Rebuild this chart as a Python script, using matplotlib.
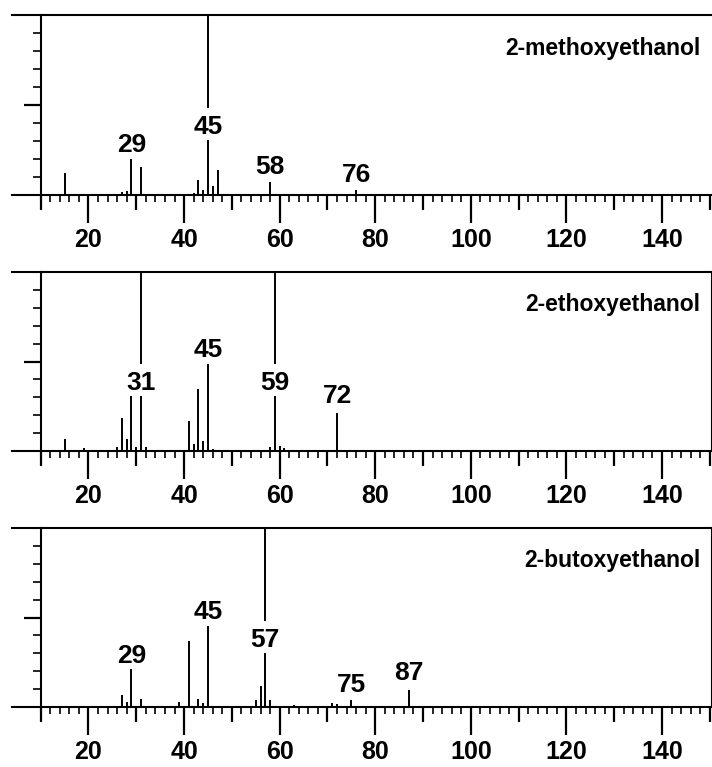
import numpy as np
import matplotlib.pyplot as plt
from matplotlib.ticker import FixedLocator


# relative intensities (% of base peak) read per m/z
names = ['2-methoxyethanol', '2-ethoxyethanol', '2-butoxyethanol']

mz_meth = [15, 27, 28, 29, 31, 42, 43, 44, 45, 46, 47, 58, 76]
int_meth = [12.5, 1.5, 2, 20, 15.5, 1, 8.5, 3, 100, 5, 14, 7, 3]
lab_meth = [29, 45, 58, 76]
laby_meth = [24, 34, 11.7, 7.2]

mz_eth = [15, 19, 26, 27, 28, 29, 30, 31, 32, 41, 42, 43, 44, 45, 46, 58, 59, 60, 61, 72]
int_eth = [6.5, 1.5, 2.5, 18.5, 6.5, 31, 2, 100, 2.5, 17, 3.7, 34.5, 5.6, 48.5, 1, 2, 100, 3, 1.5, 21.5]
lab_eth = [31, 45, 59, 72]
laby_eth = [34, 52.6, 34, 26.6]

mz_but = [27, 28, 29, 31, 39, 41, 43, 44, 45, 55, 56, 57, 58, 63, 71, 72, 75, 87]
int_but = [6.5, 3, 21, 4.5, 3, 37, 4.5, 2.5, 45, 4, 12, 100, 4, 1, 2.5, 1.5, 4, 9.5]
lab_but = [29, 45, 57, 75, 87]
laby_but = [24.6, 49.3, 33.5, 8.4, 14.9]

spectra = [
    (mz_meth, int_meth, lab_meth, laby_meth),
    (mz_eth, int_eth, lab_eth, laby_eth),
    (mz_but, int_but, lab_but, laby_but),
]

plt.rcParams['font.family'] = ['Liberation Sans', 'DejaVu Sans']
plt.rcParams['font.weight'] = 'bold'

W, H = 712, 767
fig = plt.figure(figsize=(W / 100, H / 100), dpi=100)

# panel top / bottom in pixels
panel_px = [(15, 195), (272, 451), (528, 707)]
left_px, right_px = 12, 712

for i, (mz, inten, labs, laby) in enumerate(spectra):
    top, bot = panel_px[i]
    ax = fig.add_axes([left_px / W, 1 - bot / H, (right_px - left_px) / W, (bot - top) / H])
    ax.set_xlim(4, 150.46)
    ax.set_ylim(0, 100)

    # peaks; a labelled peak that runs through its label is broken around the text
    lab_y = dict(zip(labs, laby))
    for x, h in zip(mz, inten):
        ly = lab_y.get(x)
        if ly is not None and h > ly:
            ax.vlines(x, 0, ly - 3.3, color='black', lw=1.4)
            ax.vlines(x, ly + 14.5, h, color='black', lw=1.4)
        else:
            ax.vlines(x, 0, h, color='black', lw=1.4)

    for x, ly in zip(labs, laby):
        ax.text(x, ly, str(x), ha='center', va='baseline', fontsize=19, fontweight='bold')

    ax.text(0.983, 0.78, names[i], transform=ax.transAxes, ha='right', va='baseline',
            fontsize=16.5, fontweight='bold')

    # frame
    for s in ['top', 'bottom', 'left', 'right']:
        ax.spines[s].set_linewidth(1.5)
    ax.spines['left'].set_position(('data', 10))
    ax.spines['right'].set_visible(i > 0)

    # x ticks: long every 20 (labelled), medium every 10, short every 2
    ax.xaxis.set_major_locator(FixedLocator(range(20, 141, 20)))
    ax.xaxis.set_minor_locator(FixedLocator(np.arange(10, 151, 2)))
    ax.tick_params(axis='x', which='major', length=20, width=1.6, direction='out', pad=4, labelsize=18)
    ax.tick_params(axis='x', which='minor', length=5, width=1.2, direction='out')
    sec = ax.secondary_xaxis('bottom')
    sec.set_xticks(range(10, 151, 20))
    sec.tick_params(length=11, width=1.6, labelbottom=False)
    sec.spines['bottom'].set_visible(False)

    # y ticks every 10 %, longer one at 50 %
    ax.yaxis.set_major_locator(FixedLocator([50]))
    ax.yaxis.set_minor_locator(FixedLocator([10, 20, 30, 40, 60, 70, 80, 90]))
    ax.tick_params(axis='y', which='major', length=12, width=1.6, direction='out', labelleft=False)
    ax.tick_params(axis='y', which='minor', length=6, width=1.2, direction='out')

fig.savefig('out.png', dpi=100)
